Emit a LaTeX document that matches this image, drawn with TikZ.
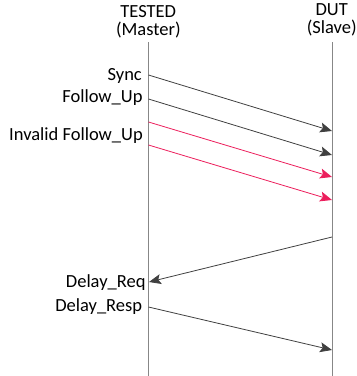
\documentclass[tikz,border=0pt]{standalone}
\usepackage{fontspec}
\setmainfont{Carlito}
\usetikzlibrary{arrows.meta}
\definecolor{lifegray}{RGB}{135,135,135}
\definecolor{msggray}{RGB}{64,64,64}
\definecolor{badred}{RGB}{236,30,92}
\tikzset{
	lifeline/.style={draw=lifegray, line width=1.3pt},
	msg/.style={color=msggray, line width=0.8pt, -{Stealth[length=12pt,width=10pt,inset=2.5pt]}},
	badmsg/.style={msg, color=badred},
	label/.style={anchor=base east, inner sep=0pt, font=\fontsize{18.5}{18.5}\selectfont},
	head/.style={anchor=base, align=center, inner sep=0pt, font=\fontsize{18.5}{18.5}\selectfont}
}

\begin{document}
\begin{tikzpicture}[x=1pt,y=-1pt]
        \useasboundingbox (0,0) rectangle (357,376);
        \node[head] (master) at (148.3, 35.8) {TESTED\\(Master)};
        \node[head] (slave) at (331.7, 33.5) {DUT\\(Slave)};
        \coordinate (m_top) at (148.5, 42);
        \coordinate (m_bot) at (148.5, 376);
        \coordinate (s_top) at (332.5, 42);
        \coordinate (s_bot) at (332.5, 376);
        \draw[lifeline] (m_top) -- (m_bot);
        \draw[lifeline] (s_top) -- (s_bot);
        \coordinate (sync_m) at (148.5, 75);
        \coordinate (sync_s) at (332, 131);
        \coordinate (fup_m) at (148.5, 99);
        \coordinate (fup_s) at (332, 155);
        \coordinate (bad1_m) at (148.5, 122);
        \coordinate (bad1_s) at (332, 177);
        \coordinate (bad2_m) at (148.5, 145);
        \coordinate (bad2_s) at (332, 200);
        \coordinate (req_s) at (332, 237);
        \coordinate (req_m) at (149, 282);
        \coordinate (resp_m) at (148.5, 307);
        \coordinate (resp_s) at (332, 350);
        \node[label] (sync_l) at (142, 80) {Sync};
        \node[label] (fup_l) at (142.7, 102) {Follow\_Up};
        \node[label] (bad_l) at (143, 140) {Invalid Follow\_Up};
        \node[label] (req_l) at (145.7, 287) {Delay\_Req};
        \node[label] (resp_l) at (142.3, 311) {Delay\_Resp};
        \draw[msg] (sync_m) -- (sync_s);
        \draw[msg] (fup_m) -- (fup_s);
        \draw[badmsg] (bad1_m) -- (bad1_s);
        \draw[badmsg] (bad2_m) -- (bad2_s);
        \draw[msg] (req_s) -- (req_m);
        \draw[msg] (resp_m) -- (resp_s);
\end{tikzpicture}
\end{document}
